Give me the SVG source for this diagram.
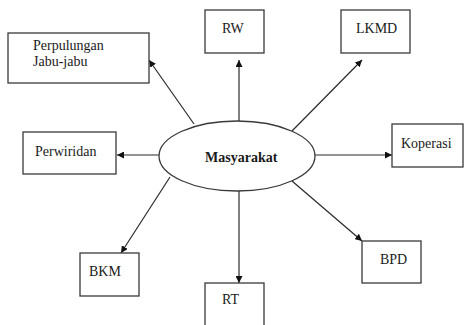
<svg xmlns="http://www.w3.org/2000/svg" width="466" height="325" viewBox="0 0 466 325">
  <style>
    .box { fill: #ffffff; stroke: #3a3a3a; stroke-width: 1.3; }
    .lbl { font-family: "Liberation Serif", "Times New Roman", serif; font-size: 14px; fill: #1a1a1a; }
    .main { font-weight: bold; }
    .conn { stroke: #2a2a2a; stroke-width: 1.2; fill: none; marker-end: url(#arrow); }
  </style>
  <defs>
    <marker id="arrow" viewBox="0 0 10 10" refX="10" refY="5" markerWidth="7" markerHeight="7" markerUnits="userSpaceOnUse" orient="auto">
      <path d="M0,0 L10,5 L0,10 z" fill="#111111"/>
    </marker>
  </defs>
  <rect width="466" height="325" fill="#ffffff"/>

  <g id="connectors">
    <line class="conn" x1="194" y1="124" x2="149" y2="60"/>
    <line class="conn" x1="239" y1="121" x2="239" y2="60"/>
    <line class="conn" x1="292" y1="131" x2="362" y2="60"/>
    <line class="conn" x1="159" y1="155" x2="117" y2="155"/>
    <line class="conn" x1="315" y1="155" x2="392" y2="155"/>
    <line class="conn" x1="170" y1="177" x2="121" y2="253"/>
    <line class="conn" x1="239" y1="191" x2="239" y2="283"/>
    <line class="conn" x1="292" y1="181" x2="362" y2="241"/>
  </g>

  <g id="masyarakat">
    <ellipse class="box" cx="237" cy="156" rx="78" ry="35"/>
    <text class="lbl main" x="205" y="162">Masyarakat</text>
  </g>

  <g id="perpulungan">
    <rect class="box" x="8" y="33" width="141" height="50"/>
    <text class="lbl" x="33" y="50">Perpulungan</text>
    <text class="lbl" x="33" y="66">Jabu-jabu</text>
  </g>

  <g id="rw">
    <rect class="box" x="205" y="10" width="59" height="43"/>
    <text class="lbl" x="222" y="33">RW</text>
  </g>

  <g id="lkmd">
    <rect class="box" x="341" y="10" width="69" height="43"/>
    <text class="lbl" x="356" y="33">LKMD</text>
  </g>

  <g id="perwiridan">
    <rect class="box" x="23" y="132" width="93" height="42"/>
    <text class="lbl" x="35" y="156">Perwiridan</text>
  </g>

  <g id="koperasi">
    <rect class="box" x="392" y="124" width="71" height="43"/>
    <text class="lbl" x="401" y="148">Koperasi</text>
  </g>

  <g id="bkm">
    <rect class="box" x="80" y="253" width="59" height="43"/>
    <text class="lbl" x="89" y="276">BKM</text>
  </g>

  <g id="rt">
    <rect class="box" x="205" y="283" width="59" height="50"/>
    <text class="lbl" x="222" y="304">RT</text>
  </g>

  <g id="bpd">
    <rect class="box" x="362" y="241" width="59" height="42"/>
    <text class="lbl" x="380" y="264">BPD</text>
  </g>
</svg>
